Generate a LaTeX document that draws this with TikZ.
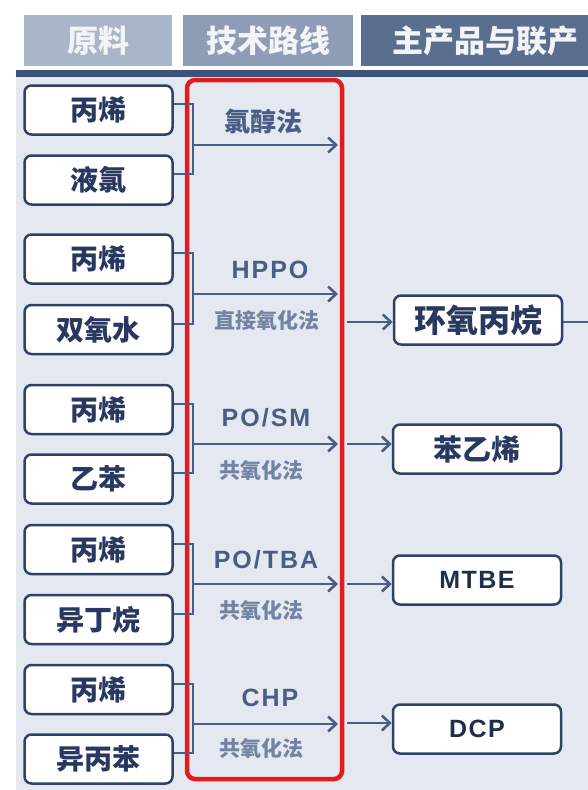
\documentclass[tikz,border=0pt]{standalone}
\usepackage{fontspec}
\setmainfont{Liberation Sans}
\newfontfamily\cjk{Noto Sans CJK SC}
\usetikzlibrary{arrows.meta}
\definecolor{panel}{HTML}{E4E9F1}
\definecolor{hdrA}{HTML}{A9B6C9}
\definecolor{hdrB}{HTML}{8E9DB5}
\definecolor{hdrC}{HTML}{5A6E90}
\definecolor{hdrtxt}{HTML}{F2F4F8}
\definecolor{hline}{HTML}{3E5379}
\definecolor{navy}{HTML}{2F4166}
\definecolor{boxtxt}{HTML}{283860}
\definecolor{conncol}{HTML}{4B5E82}
\definecolor{methA}{HTML}{4A5D84}
\definecolor{methB}{HTML}{7384A3}
\definecolor{redline}{HTML}{E51A1F}
\tikzset{
  hdrtext/.style={text=hdrtxt, font=\cjk\bfseries\fontsize{31}{31}\selectfont, inner sep=0pt},
  inbox/.style={draw=navy, line width=2.5pt, fill=white, rounded corners=7pt,
    minimum width=148pt, minimum height=49pt, inner sep=0pt,
    text=boxtxt, font=\cjk\bfseries\fontsize{28}{28}\selectfont},
  prodbox/.style={inbox, minimum width=168pt},
  conn/.style={draw=conncol, line width=2pt},
  arr/.style={conn, -{Straight Barb[length=8pt,width=15pt,line width=2.6pt]}},
  methcn/.style={text=methA, font=\cjk\bfseries\fontsize{26}{26}\selectfont, inner sep=0pt},
  methlat/.style={text=methA, font=\bfseries\fontsize{25}{25}\selectfont\addfontfeature{LetterSpace=8}, inner sep=0pt},
  methsub/.style={text=methB, font=\cjk\bfseries\fontsize{21}{21}\selectfont, inner sep=0pt},
  prodlat/.style={text=boxtxt!80!black, font=\bfseries\fontsize{25}{25}\selectfont\addfontfeature{LetterSpace=6}},
  redbox/.style={draw=redline, line width=4.5pt, rounded corners=8pt}
}
\begin{document}
\begin{tikzpicture}[x=1pt,y=-1pt]
\useasboundingbox (0,0) rectangle (588,790);
\fill[white] (0,0) rectangle (588,790);
\fill[panel] (16,77) rectangle (588,790);
% headers
\fill[hdrA] (24,15) rectangle (172,66);
\fill[hdrB] (183,15) rectangle (353,66);
\fill[hdrC] (361,15) rectangle (588,66);
\fill[hline] (16,70) rectangle (588,77);
\node[hdrtext] (h1) at (98,41) {原料};
\node[hdrtext] (h2) at (268,41) {技术路线};
\begin{scope}
\clip (361,15) rectangle (588,66);
\node[hdrtext, anchor=west] (h3) at (392,41) {主产品与联产};
\end{scope}
% red box
\draw[redbox] (187,80) rectangle (342,779);
% input boxes
\node[inbox] (a1) at (98.5,110) {丙烯};
\node[inbox] (a2) at (98.5,180) {液氯};
\node[inbox] (a3) at (98.5,259) {丙烯};
\node[inbox] (a4) at (98.5,329.5) {双氧水};
\node[inbox] (a5) at (98.5,409.5) {丙烯};
\node[inbox] (a6) at (98.5,479) {乙苯};
\node[inbox] (a7) at (98.5,549.5) {丙烯};
\node[inbox] (a8) at (98.5,619.5) {异丁烷};
\node[inbox] (a9) at (98.5,689.5) {丙烯};
\node[inbox] (a10) at (98.5,759) {异丙苯};
% junctions and method arrow ends
\coordinate (j1) at (193,145);   \coordinate (m1) at (338,145);
\coordinate (j2) at (193,294);   \coordinate (m2) at (338,294);
\coordinate (j3) at (193,444);   \coordinate (m3) at (338,444);
\coordinate (j4) at (193,584);   \coordinate (m4) at (338,584);
\coordinate (j5) at (193,724);   \coordinate (m5) at (338,724);
% brackets
\foreach \i/\a/\b in {1/a1/a2, 2/a3/a4, 3/a5/a6, 4/a7/a8, 5/a9/a10}{
  \draw[conn] ([yshift=6pt]\a.east) -| (j\i);
  \draw[conn] ([yshift=6pt]\b.east) -| (j\i);
  \draw[arr] (j\i) -- (m\i);
}
% method labels
\node[methcn] (l1) at (263,121) {氯醇法};
\node[methlat] (l2) at (270,270) {HPPO};
\node[methsub] (s2) at (267,320) {直接氧化法};
\node[methlat] (l3) at (266,418) {PO/SM};
\node[methsub] (s3) at (261,470) {共氧化法};
\node[methlat] (l4) at (266,560) {PO/TBA};
\node[methsub] (s4) at (261,610) {共氧化法};
\node[methlat] (l5) at (270,698) {CHP};
\node[methsub] (s5) at (261,748) {共氧化法};
% products
\node[prodbox, font=\cjk\bfseries\fontsize{32}{32}\selectfont] (p1) at (478,320) {环氧丙烷};
\node[prodbox, font=\cjk\bfseries\fontsize{29}{29}\selectfont] (p2) at (477,449) {苯乙烯};
\node[prodbox, prodlat] (p3) at (477,580) {MTBE};
\node[prodbox, prodlat] (p4) at (477,729) {DCP};
\coordinate (r1) at (347,322);
\coordinate (r2) at (347,444);
\coordinate (r3) at (347,584);
\coordinate (r4) at (347,723);
\draw[arr] (r1) -- (r1 -| p1.west);
\draw[arr] (r2) -- (r2 -| p2.west);
\draw[arr] (r3) -- (r3 -| p3.west);
\draw[arr] (r4) -- (r4 -| p4.west);
\coordinate (e1) at (588,322);
\draw[conn] (e1 -| p1.east) -- (e1);
\end{tikzpicture}
\end{document}
